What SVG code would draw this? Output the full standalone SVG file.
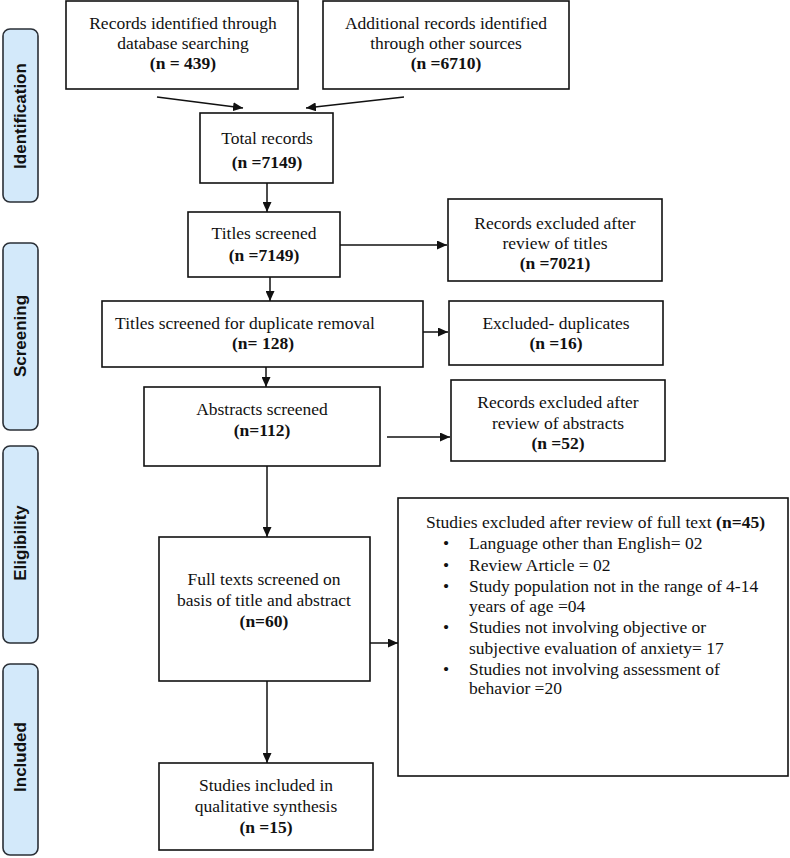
<svg xmlns="http://www.w3.org/2000/svg" width="790" height="858" viewBox="0 0 790 858">
<style>
  .box{fill:#fff;stroke:#111;stroke-width:1.6}
  .side{fill:#d3e9fa;stroke:#2a2f36;stroke-width:1.6}
  .t{font-family:"Liberation Serif","Times New Roman",serif;font-size:17.5px;fill:#111;text-anchor:middle}
  .b{font-weight:bold}
  .l{text-anchor:start}
  .s{font-family:"Liberation Sans",Arial,sans-serif;font-size:17px;font-weight:bold;fill:#111;text-anchor:middle}
  .c{stroke:#111;stroke-width:1.5;fill:none;marker-end:url(#ah)}
</style>
<defs>
  <marker id="ah" markerUnits="userSpaceOnUse" markerWidth="10" markerHeight="9" refX="10" refY="4.5" orient="auto">
    <path d="M0,0 L10,4.5 L0,9 z" fill="#111"/>
  </marker>
</defs>
<rect width="790" height="858" fill="#fff"/>

<g id="side-identification">
  <rect class="side" x="3" y="29" width="35" height="173" rx="7"/>
  <text class="s" transform="translate(26,116) rotate(-90)">Identification</text>
</g>
<g id="side-screening">
  <rect class="side" x="3" y="243" width="35" height="187" rx="7"/>
  <text class="s" transform="translate(26,336) rotate(-90)">Screening</text>
</g>
<g id="side-eligibility">
  <rect class="side" x="3" y="446" width="35" height="197" rx="7"/>
  <text class="s" transform="translate(26,543) rotate(-90)">Eligibility</text>
</g>
<g id="side-included">
  <rect class="side" x="3" y="664" width="35" height="191" rx="7"/>
  <text class="s" transform="translate(26,757) rotate(-90)">Included</text>
</g>

<g id="n-db">
  <rect class="box" x="66" y="1" width="232" height="88"/>
  <text class="t" x="183" y="29">Records identified through</text>
  <text class="t" x="183" y="49">database searching</text>
  <text class="t b" x="183" y="69">(n = 439)</text>
</g>
<g id="n-other">
  <rect class="box" x="323" y="1" width="246" height="88"/>
  <text class="t" x="446" y="29">Additional records identified</text>
  <text class="t" x="446" y="49">through other sources</text>
  <text class="t b" x="446" y="69">(n =6710)</text>
</g>
<g id="n-total">
  <rect class="box" x="200" y="113" width="133" height="70"/>
  <text class="t" x="267" y="144">Total records</text>
  <text class="t b" x="267" y="168">(n =7149)</text>
</g>
<g id="n-titles">
  <rect class="box" x="188" y="212" width="152" height="65"/>
  <text class="t" x="264" y="239">Titles screened</text>
  <text class="t b" x="264" y="261">(n =7149)</text>
</g>
<g id="n-excl-titles">
  <rect class="box" x="448" y="199" width="214" height="82"/>
  <text class="t" x="555" y="229">Records excluded after</text>
  <text class="t" x="555" y="249">review of titles</text>
  <text class="t b" x="555" y="269">(n =7021)</text>
</g>
<g id="n-dup">
  <rect class="box" x="102" y="301" width="321" height="66"/>
  <text class="t" x="245" y="329">Titles screened for duplicate removal</text>
  <text class="t b" x="263" y="349">(n= 128)</text>
</g>
<g id="n-excl-dup">
  <rect class="box" x="449" y="301" width="214" height="64"/>
  <text class="t" x="556" y="329">Excluded- duplicates</text>
  <text class="t b" x="556" y="349">(n =16)</text>
</g>
<g id="n-abstracts">
  <rect class="box" x="144" y="387" width="236" height="79"/>
  <text class="t" x="262" y="415">Abstracts screened</text>
  <text class="t b" x="262" y="436">(n=112)</text>
</g>
<g id="n-excl-abs">
  <rect class="box" x="451" y="380" width="214" height="81"/>
  <text class="t" x="558" y="408">Records excluded after</text>
  <text class="t" x="558" y="429">review of abstracts</text>
  <text class="t b" x="558" y="449">(n =52)</text>
</g>
<g id="n-full">
  <rect class="box" x="159" y="537" width="211" height="144"/>
  <text class="t" x="264" y="585">Full texts screened on</text>
  <text class="t" x="264" y="606">basis of title and abstract</text>
  <text class="t b" x="264" y="627">(n=60)</text>
</g>
<g id="n-excl-full">
  <rect class="box" x="398" y="498" width="390" height="278"/>
  <text class="t l" x="426" y="528">Studies excluded after review of full text <tspan class="b">(n=45)</tspan></text>
  <text class="t" x="446" y="549">•</text>
  <text class="t l" x="469" y="549">Language other than English= 02</text>
  <text class="t" x="446" y="571">•</text>
  <text class="t l" x="469" y="571">Review Article = 02</text>
  <text class="t" x="446" y="592">•</text>
  <text class="t l" x="469" y="592">Study population not in the range of 4-14</text>
  <text class="t l" x="469" y="612">years of age =04</text>
  <text class="t" x="446" y="633">•</text>
  <text class="t l" x="469" y="633">Studies not involving objective or</text>
  <text class="t l" x="469" y="654">subjective evaluation of anxiety= 17</text>
  <text class="t" x="446" y="675">•</text>
  <text class="t l" x="469" y="675">Studies not involving assessment of</text>
  <text class="t l" x="469" y="694">behavior =20</text>
</g>
<g id="n-included">
  <rect class="box" x="159" y="763" width="214" height="87"/>
  <text class="t" x="266" y="791">Studies included in</text>
  <text class="t" x="266" y="812">qualitative synthesis</text>
  <text class="t b" x="266" y="833">(n =15)</text>
</g>

<g id="connectors">
  <line class="c" x1="157" y1="97" x2="243" y2="108"/>
  <line class="c" x1="404" y1="97" x2="306" y2="108"/>
  <line class="c" x1="267" y1="183" x2="267" y2="212"/>
  <line class="c" x1="340" y1="245" x2="447" y2="245"/>
  <line class="c" x1="270" y1="277" x2="270" y2="301"/>
  <line class="c" x1="423" y1="332" x2="448" y2="332"/>
  <line class="c" x1="266" y1="367" x2="266" y2="387"/>
  <line class="c" x1="387" y1="437" x2="450" y2="437"/>
  <line class="c" x1="267" y1="466" x2="267" y2="537"/>
  <line class="c" x1="370" y1="643" x2="398" y2="643"/>
  <line class="c" x1="267" y1="681" x2="267" y2="763"/>
</g>
</svg>
